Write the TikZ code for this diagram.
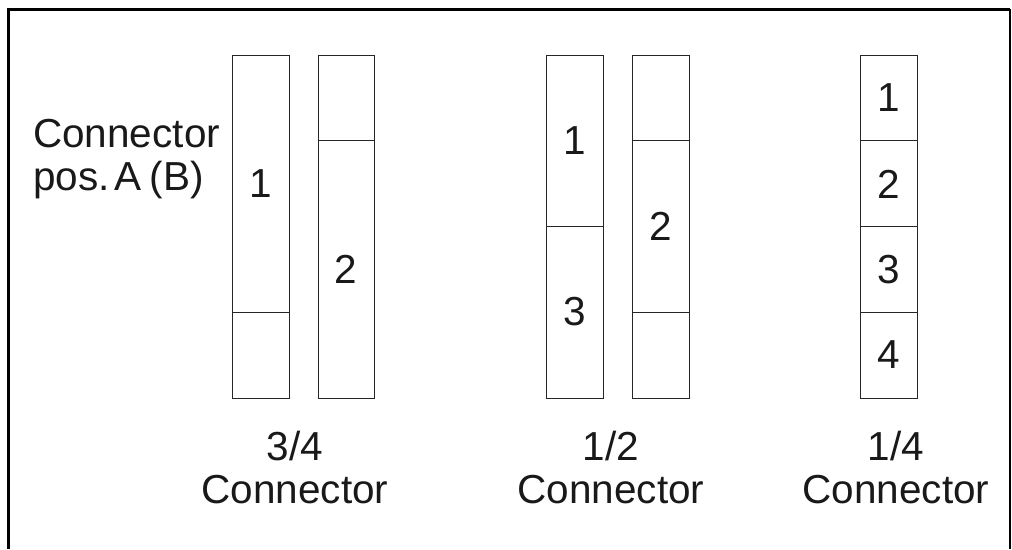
\documentclass[tikz,border=0pt]{standalone}
\usepackage{fontspec}
\setmainfont{Liberation Sans}
\begin{document}
\begin{tikzpicture}[x=1pt,y=-1pt,
  slot/.style={draw=black!85, line width=0.9pt},
  num/.style={font=\fontsize{40.5}{43}\selectfont, inner sep=0pt, text=black!90},
  caption/.style={font=\fontsize{40.5}{43}\selectfont, inner sep=0pt, anchor=base, text=black!90}]
  \useasboundingbox (0,0) rectangle (1012,549);

  % Define the outline corners
  \coordinate (FL) at (8,549);
  \coordinate (TL) at (8,9);
  \coordinate (TR) at (1010,9);
  \coordinate (FR) at (1010,549);

  % Draw the outline (open at the bottom)
  \draw[line width=3pt, black] (FL) -- (TL) -- (TR);
  \draw[line width=2pt, black] (TR) -- (FR);

  % Label the connector position
  \node[caption, anchor=base west] (posa) at (33,147) {Connector};
  \node[caption, anchor=base west] (posb) at (33,190) {pos.\kern5pt A\kern8pt(B)};

  % Draw the 3/4 connector
  \draw[slot] (232,55) rectangle (289,398);
  \draw[slot] (232,312.25) -- (289,312.25);
  \draw[slot] (318,55) rectangle (374,398);
  \draw[slot] (318,140.75) -- (374,140.75);
  \node[num] (q1) at (260.5,184) {1};
  \node[num] (q2) at (346,269.5) {2};

  % Draw the 1/2 connector
  \draw[slot] (546,55) rectangle (603,398);
  \draw[slot] (546,226.5) -- (603,226.5);
  \draw[slot] (632,55) rectangle (689,398);
  \draw[slot] (632,140.75) -- (689,140.75);
  \draw[slot] (632,312.25) -- (689,312.25);
  \node[num] (h1) at (574.5,141) {1};
  \node[num] (h3) at (574.5,312) {3};
  \node[num] (h2) at (660.5,226.5) {2};

  % Draw the 1/4 connector
  \draw[slot] (860,55) rectangle (917,398);
  \draw[slot] (860,140.75) -- (917,140.75);
  \draw[slot] (860,226.5) -- (917,226.5);
  \draw[slot] (860,312.25) -- (917,312.25);
  \node[num] (f1) at (888.5,98) {1};
  \node[num] (f2) at (888.5,184) {2};
  \node[num] (f3) at (888.5,269.5) {3};
  \node[num] (f4) at (888.5,355) {4};

  % Label the connectors
  \node[caption] (qa) at (295,460) {3/4};
  \node[caption] (qb) at (295,503) {Connector};
  \node[caption] (ha) at (611,460) {1/2};
  \node[caption] (hb) at (611,503) {Connector};
  \node[caption] (fa) at (896,460) {1/4};
  \node[caption] (fb) at (896,503) {Connector};
\end{tikzpicture}
\end{document}
